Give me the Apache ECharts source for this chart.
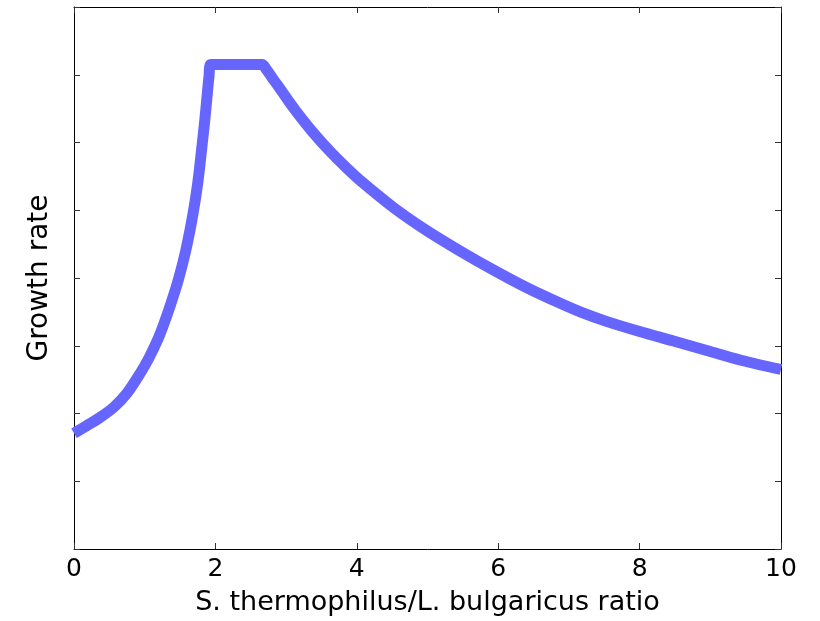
<!DOCTYPE html>
<html>
<head>
<meta charset="utf-8">
<script src="https://cdn.jsdelivr.net/npm/echarts@6/dist/echarts.min.js"></script>
<style>
	html, body { margin: 0; padding: 0; background: #fff; }
	#chart { width: 820px; height: 621px; }
</style>
</head>
<body>
<div id="chart"></div>
<script>
// ratio values (x) and growth rate (y)
var ratio = [0, 0.18, 0.38, 0.57, 0.75, 0.94, 1.06, 1.18, 1.27, 1.37, 1.475, 1.58, 1.68, 1.75, 1.8, 1.85, 1.88, 1.91, 1.935,
	2.3, 2.66, 2.72, 2.8, 2.91, 3.03, 3.15, 3.38, 3.62, 3.86, 4.07, 4.52, 4.99, 5.46, 5.93, 6.4, 6.87, 7.16, 7.53, 8.0, 8.48, 8.95, 9.42, 10];
var growth = [1.71, 1.82, 1.95, 2.1, 2.3, 2.6, 2.82, 3.08, 3.32, 3.62, 3.97, 4.4, 4.93, 5.4, 5.85, 6.33, 6.66, 6.98, 7.15,
	7.15, 7.15, 7.08, 6.96, 6.8, 6.62, 6.45, 6.15, 5.87, 5.62, 5.42, 5.04, 4.7, 4.4, 4.12, 3.86, 3.63, 3.5, 3.36, 3.21, 3.07, 2.93, 2.79, 2.65];
var xTicks = [0, 2, 4, 6, 8, 10];

var chart = echarts.init(document.getElementById('chart'));

var font = 'DejaVu Sans';
var tickStyle = { show: true, inside: true, length: 6, lineStyle: { color: '#333', width: 1 } };
var lineStyle = { color: '#000', width: 1 };

var points = ratio.map(function(r, i) {
	return [r, growth[i]];
});

var option = {
	animation: false,
	backgroundColor: '#fff',
	grid: {
		left: 74,
		right: 39,
		top: 7,
		bottom: 68
	},
	xAxis: [{
		type: 'value',
		min: xTicks[0],
		max: xTicks[xTicks.length - 1],
		interval: 2,
		position: 'bottom',
		name: 'S. thermophilus/L. bulgaricus ratio',
		nameLocation: 'middle',
		nameGap: 40,
		nameTextStyle: { fontFamily: font, fontSize: 27, color: '#000' },
		axisLine: { show: true, onZero: false, lineStyle: lineStyle },
		axisTick: tickStyle,
		axisLabel: { fontFamily: font, fontSize: 25, color: '#000', margin: 8 },
		splitLine: { show: false }
	}, {
		type: 'value',
		min: 0,
		max: 10,
		interval: 2,
		position: 'top',
		axisLine: { show: true, onZero: false, lineStyle: lineStyle },
		axisTick: tickStyle,
		axisLabel: { show: false },
		splitLine: { show: false }
	}],
	yAxis: [{
		type: 'value',
		min: 0,
		max: 8,
		interval: 1,
		position: 'left',
		name: 'Growth rate',
		nameLocation: 'middle',
		nameGap: 20,
		nameTextStyle: { fontFamily: font, fontSize: 28, color: '#000' },
		axisLine: { show: true, onZero: false, lineStyle: lineStyle },
		axisTick: tickStyle,
		axisLabel: { show: false },
		splitLine: { show: false }
	}, {
		type: 'value',
		min: 0,
		max: 8,
		interval: 1,
		position: 'right',
		axisLine: { show: true, onZero: false, lineStyle: lineStyle },
		axisTick: tickStyle,
		axisLabel: { show: false },
		splitLine: { show: false }
	}],
	series: [{
		type: 'line',
		data: points,
		xAxisIndex: 0,
		yAxisIndex: 0,
		symbol: 'none',
		smooth: 0.3,
		lineStyle: {
			color: '#6666ff',
			width: 11,
			cap: 'butt',
			join: 'round'
		}
	}]
};

chart.setOption(option);
</script>
</body>
</html>
